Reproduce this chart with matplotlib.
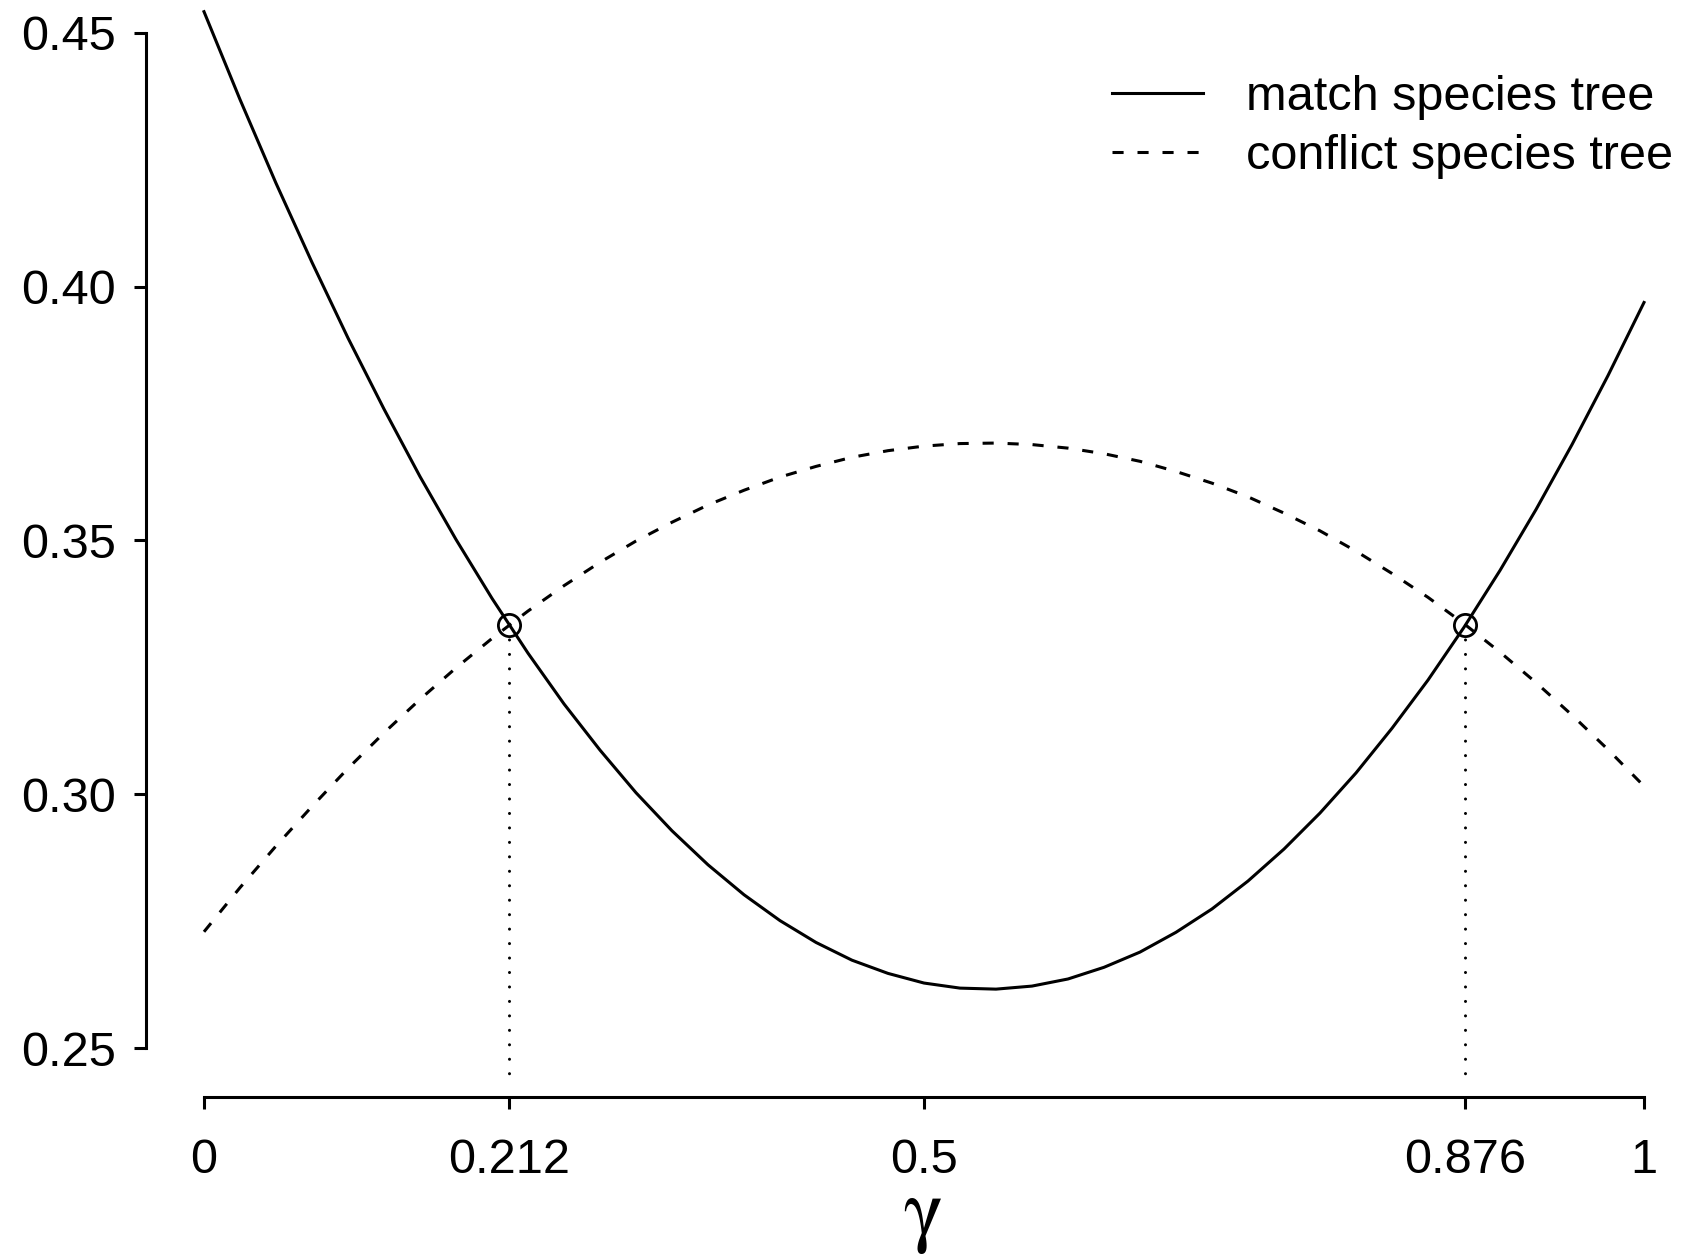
import matplotlib
matplotlib.use("Agg")
import matplotlib.pyplot as plt

plt.rcParams['font.family'] = ['Liberation Sans', 'DejaVu Sans']
plt.rcParams['mathtext.fontset'] = 'stix'
plt.rcParams['lines.scale_dashes'] = False

# data
gamma = [0.0, 0.025, 0.05, 0.075, 0.1, 0.125, 0.15, 0.175, 0.2, 0.225,
         0.25, 0.275, 0.3, 0.325, 0.35, 0.375, 0.4, 0.425, 0.45, 0.475,
         0.5, 0.525, 0.55, 0.575, 0.6, 0.625, 0.65, 0.675, 0.7, 0.725,
         0.75, 0.775, 0.8, 0.825, 0.85, 0.875, 0.9, 0.925, 0.95, 0.975, 1.0]
match = [0.4542, 0.4369, 0.4204, 0.4048, 0.3899, 0.3759, 0.3626, 0.3502, 0.3386, 0.3278,
         0.3178, 0.3087, 0.3003, 0.2928, 0.2861, 0.2802, 0.2751, 0.2708, 0.2673, 0.2647,
         0.2628, 0.2618, 0.2616, 0.2622, 0.2636, 0.2659, 0.2689, 0.2728, 0.2774, 0.2829,
         0.2892, 0.2963, 0.3042, 0.3130, 0.3225, 0.3329, 0.3441, 0.3561, 0.3689, 0.3825, 0.3969]
conflict = [0.2729, 0.2816, 0.2898, 0.2976, 0.3051, 0.3121, 0.3187, 0.3249, 0.3307, 0.3361,
            0.3411, 0.3457, 0.3499, 0.3536, 0.3570, 0.3599, 0.3625, 0.3646, 0.3664, 0.3677,
            0.3686, 0.3691, 0.3692, 0.3689, 0.3682, 0.3671, 0.3656, 0.3636, 0.3613, 0.3586,
            0.3554, 0.3519, 0.3479, 0.3435, 0.3388, 0.3336, 0.3280, 0.3220, 0.3156, 0.3088, 0.3016]
cross_x = [0.212, 0.876]
cross_y = [0.3333, 0.3333]
x_ticks = [0, 0.212, 0.5, 0.876, 1]
x_labels = ['0', '0.212', '0.5', '0.876', '1']
y_ticks = [0.25, 0.30, 0.35, 0.40, 0.45]
y_labels = ['0.25', '0.30', '0.35', '0.40', '0.45']

fig = plt.figure(figsize=(16.84, 12.58), dpi=100)
ax = fig.add_axes([0.12114, 0.16693, 0.85511, 0.80684])

lw = 2.2
ax.plot(gamma, match, color='black', lw=lw, clip_on=False, label='match species tree')
ax.plot(gamma, conflict, color='black', lw=lw, linestyle=(0, (8, 10)),
        clip_on=False, label='conflict species tree')

# dotted drop lines and circles at the crossings
for cx, cy in zip(cross_x, cross_y):
    ax.plot([cx, cx], [cy, 0.2425], color='black', lw=lw, linestyle=(0, (0.01, 10.4)),
            dash_capstyle='round', clip_on=False)
ax.plot(cross_x, cross_y, 'o', mfc='none', mec='black', ms=16, mew=2.0, clip_on=False)

ax.set_xlim(0, 1)
ax.set_ylim(0.25, 0.45)

# R-style detached axes
for s in ['top', 'right']:
    ax.spines[s].set_visible(False)
ax.spines['left'].set_position(('outward', 41.8))
ax.spines['bottom'].set_position(('outward', 35.3))
ax.spines['left'].set_bounds(0.25, 0.45)
ax.spines['bottom'].set_bounds(0, 1)
for s in ['left', 'bottom']:
    ax.spines[s].set_linewidth(lw)

ax.set_xticks(x_ticks)
ax.set_xticklabels(x_labels)
ax.set_yticks(y_ticks)
ax.set_yticklabels(y_labels)
ax.tick_params(axis='both', length=8.6, width=lw, labelsize=35)
ax.tick_params(axis='y', pad=13)
ax.tick_params(axis='x', pad=21)

fig.text(0.5475, 0.0175, r'$\mathrm{\gamma}$', fontsize=60, ha='center', va='baseline')

ax.legend(loc='upper left', bbox_to_anchor=(1112 / 1684, 1 - 75 / 1258),
          bbox_transform=fig.transFigure, frameon=False, fontsize=35,
          handlelength=1.87, handletextpad=0.88, labelspacing=0.28,
          borderpad=0, borderaxespad=0)

fig.savefig('out.png', dpi=100)
